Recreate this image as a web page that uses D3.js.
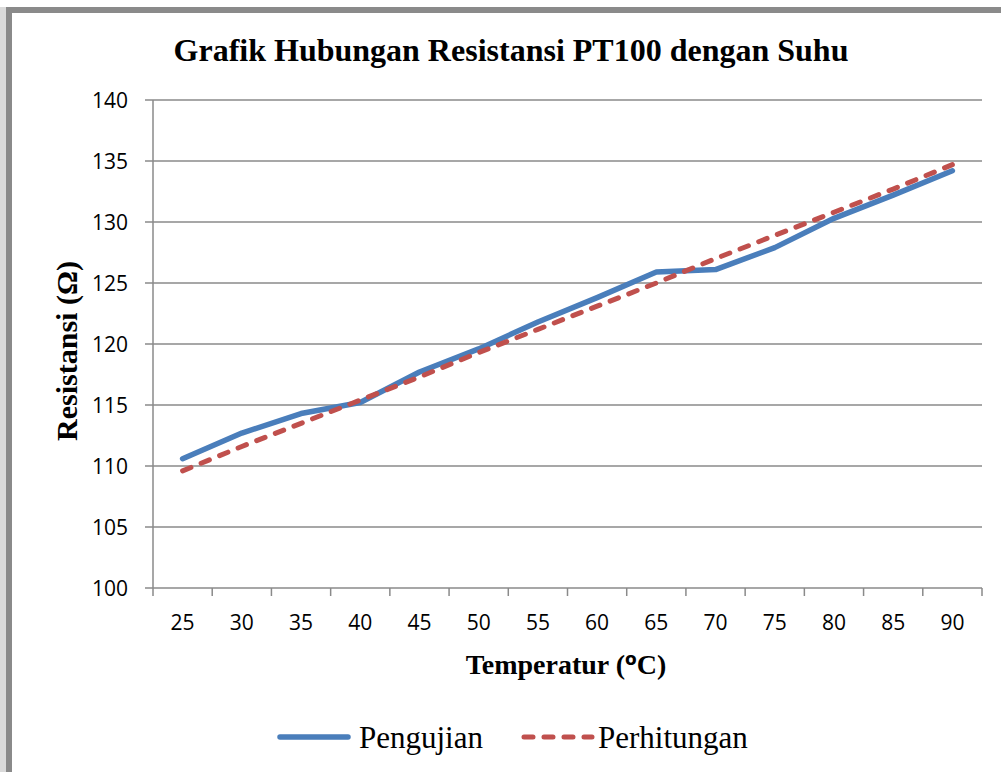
<!DOCTYPE html>
<html>
<head>
<meta charset="utf-8">
<script src="https://cdn.jsdelivr.net/npm/d3@7"></script>
<style>
    body { margin: 0; background: white; }
    svg { display: block; }
</style>
</head>
<body>
<svg id="chart" width="1001" height="772"></svg>
<script>
const suhu = [25, 30, 35, 40, 45, 50, 55, 60, 65, 70, 75, 80, 85, 90],
    pengujian = [110.6, 112.7, 114.3, 115.2, 117.7, 119.6, 121.8, 123.8, 125.9, 126.1, 127.9, 130.3, 132.2, 134.2],
    perhitungan = [109.6, 111.6, 113.5, 115.4, 117.3, 119.3, 121.2, 123.1, 125.0, 127.0, 128.9, 130.8, 132.7, 134.7],
    yTicks = [100, 105, 110, 115, 120, 125, 130, 135, 140];

const svg = d3.select('#chart'),
    grid = '#8a8a8a',
    blue = '#4a7ebb',
    red = '#c0504d',
    tickFont = 'Open Sans',
    plot = { left: 153, right: 982, top: 100, bottom: 588 };

// frame around the chart (only left and top edges visible)
svg.append('rect')
    .attr('x', 0).attr('y', 7)
    .attr('width', 6).attr('height', 765)
    .attr('fill', '#dadada');
svg.append('path')
    .attr('d', 'M9,772 V10 H1001')
    .attr('fill', 'none')
    .attr('stroke', grid)
    .attr('stroke-width', 6);

const x = d3.scaleBand()
    .domain(suhu)
    .range([plot.left, plot.right])
    .padding(0);

const y = d3.scaleLinear()
    .domain([100, 140])
    .range([plot.bottom, plot.top]);

// gridlines
svg.append('g')
    .selectAll('line')
    .data(yTicks)
    .enter()
    .append('line')
    .attr('x1', plot.left - 8)
    .attr('x2', plot.right)
    .attr('y1', d => y(d))
    .attr('y2', d => y(d))
    .attr('stroke', grid)
    .attr('stroke-width', 1.5);

// y axis line
svg.append('line')
    .attr('x1', plot.left).attr('x2', plot.left)
    .attr('y1', plot.top).attr('y2', plot.bottom)
    .attr('stroke', grid)
    .attr('stroke-width', 1.5);

// x ticks at category boundaries
const bounds = suhu.map(d => x(d)).concat([plot.right]);
svg.append('g')
    .selectAll('line')
    .data(bounds)
    .enter()
    .append('line')
    .attr('x1', d => d).attr('x2', d => d)
    .attr('y1', plot.bottom).attr('y2', plot.bottom + 8)
    .attr('stroke', grid)
    .attr('stroke-width', 1.5);

svg.append('g')
    .selectAll('text')
    .data(yTicks)
    .enter()
    .append('text')
    .text(d => d)
    .attr('x', 128)
    .attr('y', d => y(d))
    .attr('dy', '0.36em')
    .attr('text-anchor', 'end')
    .attr('font-family', tickFont)
    .attr('font-size', 21)
    .attr('fill', '#000');

svg.append('g')
    .selectAll('text')
    .data(suhu)
    .enter()
    .append('text')
    .text(d => d)
    .attr('x', d => x(d) + x.bandwidth() / 2)
    .attr('y', 630)
    .attr('text-anchor', 'middle')
    .attr('font-family', tickFont)
    .attr('font-size', 21)
    .attr('fill', '#000');

// series
const line = d3.line()
    .x((d, i) => x(suhu[i]) + x.bandwidth() / 2)
    .y(d => y(d));

svg.append('path')
    .datum(pengujian)
    .attr('d', line)
    .attr('fill', 'none')
    .attr('stroke', blue)
    .attr('stroke-width', 5.5)
    .attr('stroke-linecap', 'round')
    .attr('stroke-linejoin', 'round');

svg.append('path')
    .datum(perhitungan)
    .attr('d', line)
    .attr('fill', 'none')
    .attr('stroke', red)
    .attr('stroke-width', 5)
    .attr('stroke-dasharray', '9,11')
    .attr('stroke-linecap', 'round');

// titles
svg.append('text')
    .text('Grafik Hubungan Resistansi PT100 dengan Suhu')
    .attr('x', 511)
    .attr('y', 61)
    .attr('text-anchor', 'middle')
    .attr('font-family', 'Liberation Serif')
    .attr('font-weight', 'bold')
    .attr('font-size', 32);

const xt = svg.append('text')
    .attr('x', 566)
    .attr('y', 674)
    .attr('text-anchor', 'middle')
    .attr('font-family', 'Liberation Serif')
    .attr('font-weight', 'bold')
    .attr('font-size', 28);
xt.append('tspan').text('Temperatur (');
xt.append('tspan').text('o').attr('font-family', 'DejaVu Sans').attr('font-size', 17).attr('dy', -9);
xt.append('tspan').text('C)').attr('dy', 9);

svg.append('text')
    .text('Resistansi (Ω)')
    .attr('transform', 'translate(77,351) rotate(-90)')
    .attr('text-anchor', 'middle')
    .attr('font-family', 'Liberation Serif')
    .attr('font-weight', 'bold')
    .attr('font-size', 30);

// legend
const legend = [
    { name: 'Pengujian', color: blue, dash: null, x: 278 },
    { name: 'Perhitungan', color: red, dash: '9,11', x: 522 }
];

const lg = svg.append('g')
    .selectAll('g')
    .data(legend)
    .enter()
    .append('g')
    .attr('transform', d => 'translate(' + d.x + ',737)');

lg.append('line')
    .attr('x1', 2).attr('x2', 70)
    .attr('y1', 0).attr('y2', 0)
    .attr('stroke', d => d.color)
    .attr('stroke-width', d => d.dash ? 5 : 5.5)
    .attr('stroke-dasharray', d => d.dash)
    .attr('stroke-linecap', 'round');

lg.append('text')
    .text(d => d.name)
    .attr('x', d => d.dash ? 76 : 81)
    .attr('y', 11)
    .attr('font-family', 'Liberation Serif')
    .attr('font-size', 31)
    .attr('fill', '#000');
</script>
</body>
</html>
